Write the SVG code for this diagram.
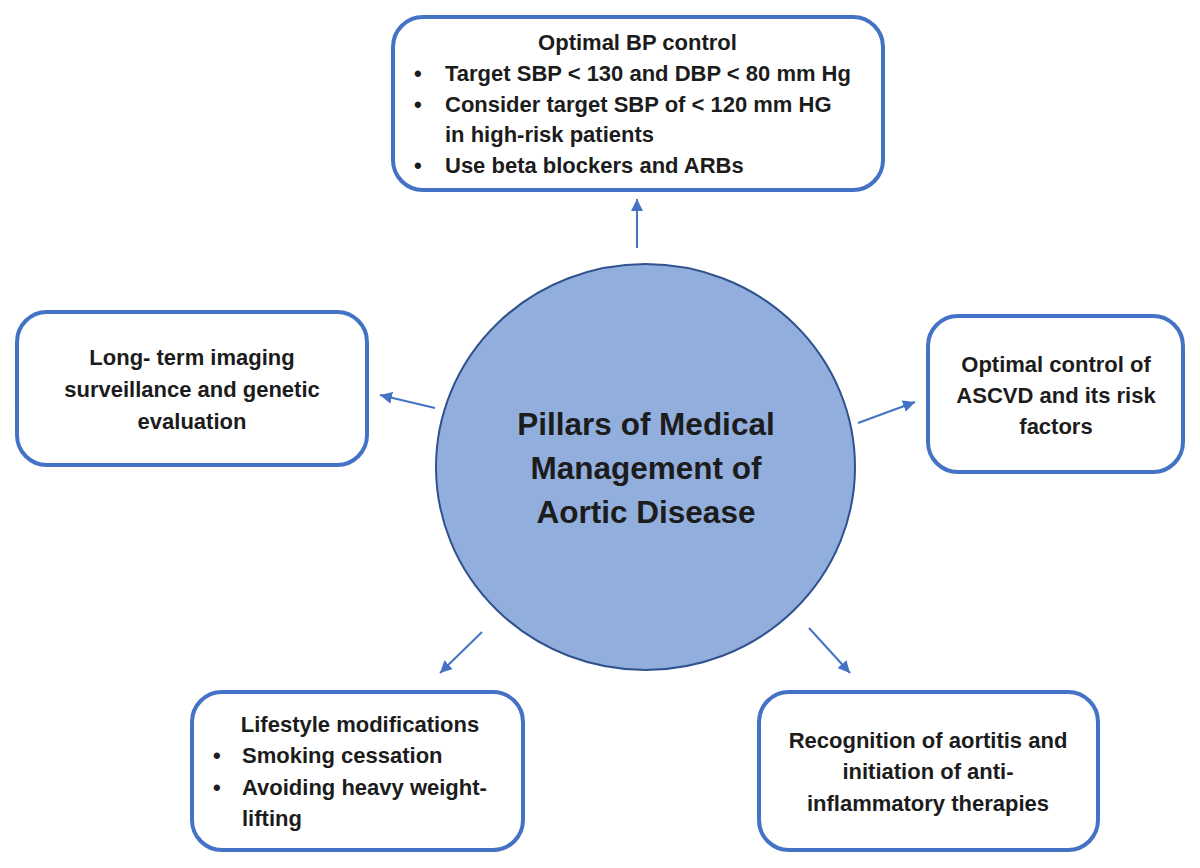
<svg xmlns="http://www.w3.org/2000/svg" width="1200" height="868" viewBox="0 0 1200 868">
<style>
.box{fill:#ffffff;stroke:#4472c4;stroke-width:4}
.t{font-family:"Liberation Sans",Arial,sans-serif;font-weight:bold;font-size:22px;fill:#1c1c1c}
.big{font-size:31.5px}
.c{text-anchor:middle}
.conn{stroke:#4472c4;stroke-width:2;fill:none}
</style>
<defs>
<marker id="ah" markerUnits="userSpaceOnUse" markerWidth="12" markerHeight="12" refX="12" refY="6" orient="auto">
<path d="M0,0 L12,6 L0,12 z" fill="#4472c4"/>
</marker>
</defs>
<rect width="1200" height="868" fill="#ffffff"/>
<g id="connectors">
<line class="conn" x1="637" y1="248" x2="637" y2="199" marker-end="url(#ah)"/>
<line class="conn" x1="435" y1="408" x2="380" y2="395" marker-end="url(#ah)"/>
<line class="conn" x1="858" y1="423" x2="915" y2="402" marker-end="url(#ah)"/>
<line class="conn" x1="482" y1="632" x2="440" y2="673" marker-end="url(#ah)"/>
<line class="conn" x1="809" y1="628" x2="850" y2="673" marker-end="url(#ah)"/>
</g>
<g id="center">
<ellipse cx="645.5" cy="467" rx="209.5" ry="203" fill="#92aedc" stroke="#2f528f" stroke-width="2"/>
<text class="t big c" x="646" y="435">Pillars of Medical</text>
<text class="t big c" x="646" y="479">Management of</text>
<text class="t big c" x="646" y="523">Aortic Disease</text>
</g>
<g id="bp">
<rect class="box" x="393" y="17" width="490" height="173" rx="30"/>
<text class="t c" x="637.5" y="50">Optimal BP control</text>
<text class="t" x="414" y="81">•</text>
<text class="t" x="445" y="81">Target SBP &lt; 130 and DBP &lt; 80 mm Hg</text>
<text class="t" x="414" y="112">•</text>
<text class="t" x="445" y="112">Consider target SBP of &lt; 120 mm HG</text>
<text class="t" x="445" y="142">in high-risk patients</text>
<text class="t" x="414" y="173">•</text>
<text class="t" x="445" y="173">Use beta blockers and ARBs</text>
</g>
<g id="imaging">
<rect class="box" x="17" y="312" width="350" height="153" rx="30"/>
<text class="t c" x="192" y="365">Long- term imaging</text>
<text class="t c" x="192" y="397">surveillance and genetic</text>
<text class="t c" x="192" y="429">evaluation</text>
</g>
<g id="ascvd">
<rect class="box" x="928" y="316" width="255" height="156" rx="30"/>
<text class="t c" x="1056" y="372">Optimal control of</text>
<text class="t c" x="1056" y="403">ASCVD and its risk</text>
<text class="t c" x="1056" y="434">factors</text>
</g>
<g id="lifestyle">
<rect class="box" x="192" y="692" width="331" height="158" rx="30"/>
<text class="t c" x="360" y="732">Lifestyle modifications</text>
<text class="t" x="213" y="763">•</text>
<text class="t" x="242" y="763">Smoking cessation</text>
<text class="t" x="213" y="795">•</text>
<text class="t" x="242" y="795">Avoiding heavy weight-</text>
<text class="t" x="242" y="826">lifting</text>
</g>
<g id="aortitis">
<rect class="box" x="759" y="692" width="339" height="158" rx="30"/>
<text class="t c" x="928" y="748">Recognition of aortitis and</text>
<text class="t c" x="928" y="779">initiation of anti-</text>
<text class="t c" x="928" y="811">inflammatory therapies</text>
</g>
</svg>
